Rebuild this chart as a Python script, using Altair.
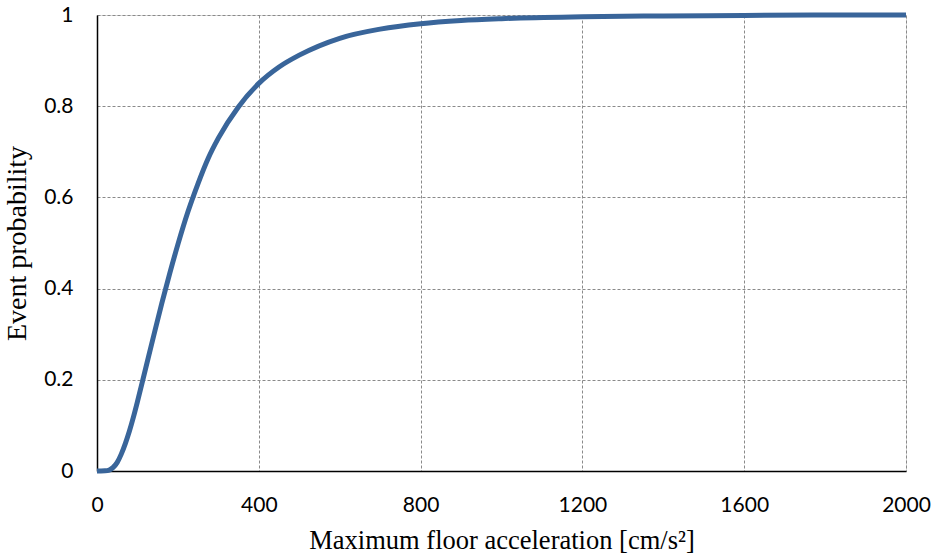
import altair as alt
import pandas as pd

# Fragility curve: event probability vs. maximum floor acceleration
acceleration = [0, 10, 20, 30, 40, 50, 60, 70, 80, 90, 100, 120, 140, 160, 180,
                200, 225, 250, 275, 300, 350, 400, 450, 500, 600, 700, 800,
                900, 1000, 1200, 1400, 1600, 1800, 2000]
probability = [0.0, 0.0, 0.0003, 0.002, 0.008, 0.019, 0.037, 0.060, 0.087, 0.118,
               0.152, 0.224, 0.296, 0.367, 0.434, 0.497, 0.569, 0.631, 0.686,
               0.730, 0.799, 0.850, 0.886, 0.912, 0.949, 0.969, 0.981, 0.988,
               0.992, 0.996, 0.998, 0.999, 1.0, 1.0]

x_ticks = [0, 400, 800, 1200, 1600, 2000]
y_ticks = [0, 0.2, 0.4, 0.6, 0.8, 1.0]

df = pd.DataFrame({"acc": acceleration, "p": probability})

tick_font = "Lato"
title_font = "Liberation Serif"

line = alt.Chart(df).mark_line(
    color="#39659a", strokeWidth=5, interpolate="monotone", strokeCap="butt"
).encode(
    x=alt.X(
        "acc:Q",
        scale=alt.Scale(domain=[0, 2000], nice=False, zero=True),
        axis=alt.Axis(
            values=x_ticks, format="d", title="Maximum floor acceleration [cm/s²]",
            grid=True, gridColor="#8a8a8a", gridDash=[3, 2], gridWidth=1,
            domainColor="#000000", domainWidth=1.5, ticks=False,
            labelFont=tick_font, labelFontSize=21, labelColor="#000000",
            labelFlush=False, labelOverlap=False,
            labelPadding=23, titleFont=title_font, titleFontSize=26.5,
            titleFontWeight="normal", titleColor="#000000", titlePadding=12,
        ),
    ),
    y=alt.Y(
        "p:Q",
        scale=alt.Scale(domain=[0, 1], nice=False),
        axis=alt.Axis(
            values=y_ticks, format=".1~f", title="Event probability",
            grid=True, gridColor="#8a8a8a", gridDash=[3, 2], gridWidth=1,
            domainColor="#000000", domainWidth=1.5, ticks=False,
            labelFont=tick_font, labelFontSize=21, labelColor="#000000",
            labelFlush=False, labelOverlap=False,
            labelPadding=24, titleFont=title_font, titleFontSize=28,
            titleFontWeight="normal", titleColor="#000000", titlePadding=12,
        ),
    ),
)

chart = line.properties(
    width=809,
    height=456,
    autosize=alt.AutoSizeParams(type="none"),
    padding={"left": 97, "top": 15, "right": 30, "bottom": 87},
).configure_view(
    stroke="#8a8a8a", strokeWidth=2
).configure(background="#ffffff")

chart.save("out.html", embed_options={"renderer": "svg", "actions": False})
